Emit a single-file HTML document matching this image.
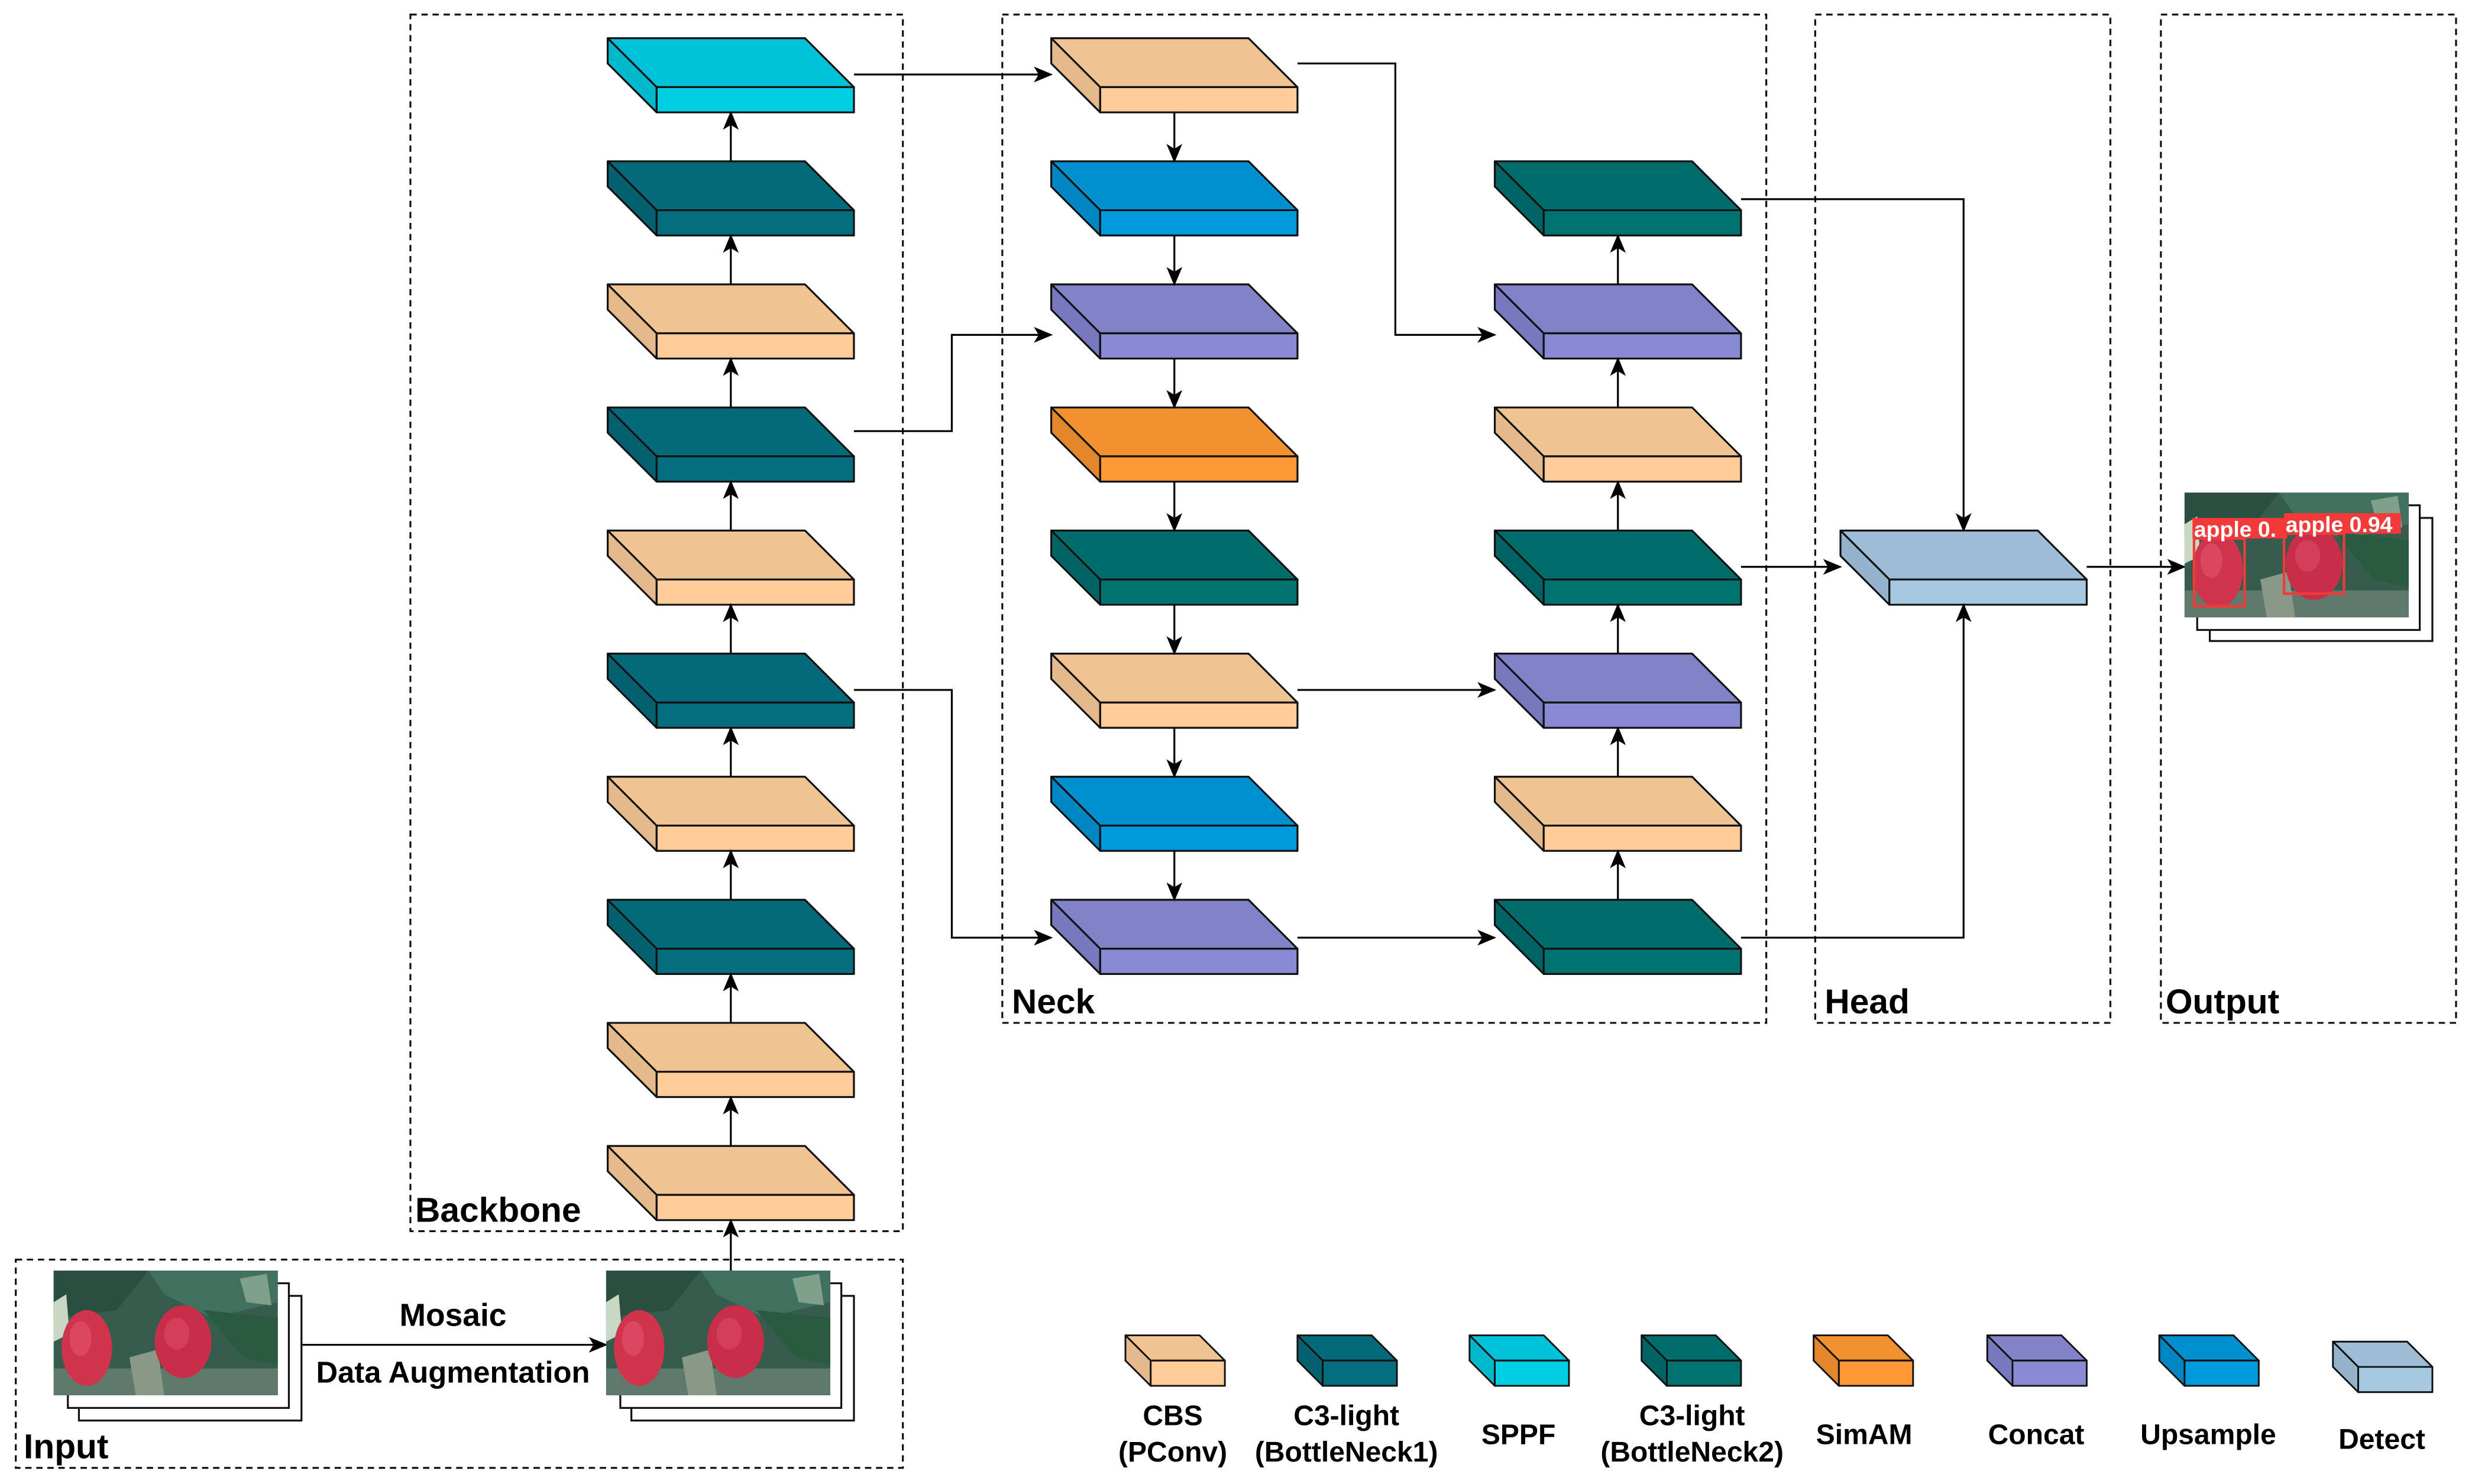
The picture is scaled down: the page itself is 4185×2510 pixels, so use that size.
<!DOCTYPE html>
<html><head><meta charset="utf-8"><style>html,body{margin:0;padding:0;background:#fff}svg{display:block}</style></head>
<body>
<svg width="4185" height="2510" viewBox="0 0 1568 940" xmlns="http://www.w3.org/2000/svg" font-family="'Liberation Sans', Arial, sans-serif">
<defs>
<marker id="ah" markerUnits="userSpaceOnUse" markerWidth="12" markerHeight="10" refX="11" refY="5" orient="auto">
<path d="M0,0 L12,5 L0,10 L3,5 z" fill="#000"/></marker>
<g id="cbs" stroke="#111" stroke-width="1.2" stroke-linejoin="round"><polygon points="0,0 125,0 156,31 31,31" fill="#F0C392"/><polygon points="0,0 31,31 31,47 0,16" fill="#E4BA8C"/><rect x="31" y="31" width="125" height="16" fill="#FFCC99"/></g>
<g id="c1" stroke="#111" stroke-width="1.2" stroke-linejoin="round"><polygon points="0,0 125,0 156,31 31,31" fill="#046A7A"/><polygon points="0,0 31,31 31,47 0,16" fill="#03606E"/><rect x="31" y="31" width="125" height="16" fill="#056E7E"/></g>
<g id="sppf" stroke="#111" stroke-width="1.2" stroke-linejoin="round"><polygon points="0,0 125,0 156,31 31,31" fill="#00C3D9"/><polygon points="0,0 31,31 31,47 0,16" fill="#00B8CC"/><rect x="31" y="31" width="125" height="16" fill="#00CFE3"/></g>
<g id="c2" stroke="#111" stroke-width="1.2" stroke-linejoin="round"><polygon points="0,0 125,0 156,31 31,31" fill="#006C6C"/><polygon points="0,0 31,31 31,47 0,16" fill="#006464"/><rect x="31" y="31" width="125" height="16" fill="#007370"/></g>
<g id="sim" stroke="#111" stroke-width="1.2" stroke-linejoin="round"><polygon points="0,0 125,0 156,31 31,31" fill="#F29130"/><polygon points="0,0 31,31 31,47 0,16" fill="#E4872C"/><rect x="31" y="31" width="125" height="16" fill="#FF9933"/></g>
<g id="cat" stroke="#111" stroke-width="1.2" stroke-linejoin="round"><polygon points="0,0 125,0 156,31 31,31" fill="#8282C8"/><polygon points="0,0 31,31 31,47 0,16" fill="#7878BE"/><rect x="31" y="31" width="125" height="16" fill="#8A8AD4"/></g>
<g id="up" stroke="#111" stroke-width="1.2" stroke-linejoin="round"><polygon points="0,0 125,0 156,31 31,31" fill="#008FCF"/><polygon points="0,0 31,31 31,47 0,16" fill="#0086C2"/><rect x="31" y="31" width="125" height="16" fill="#009ADD"/></g>
<g id="det" stroke="#111" stroke-width="1.2" stroke-linejoin="round"><polygon points="0,0 125,0 156,31 31,31" fill="#9DBDD6"/><polygon points="0,0 31,31 31,47 0,16" fill="#93B3CB"/><rect x="31" y="31" width="125" height="16" fill="#A6C8E0"/></g>
<g id="scene">
<rect x="0" y="0" width="142" height="79" fill="#355c4c"/>
<path d="M0,0 L60,0 L40,25 L0,30 z" fill="#2a4f40"/>
<path d="M60,0 L142,0 L142,20 L100,30 L70,15 z" fill="#40705e"/>
<path d="M95,25 L142,30 L142,60 L120,55 z" fill="#2a5a40"/>
<rect x="0" y="62" width="142" height="17" fill="#5f7a6a"/>
<path d="M0,20 L8,15 L10,40 L0,45 z" fill="#c9d8c4"/>
<path d="M118,5 L135,2 L138,22 L122,20 z" fill="#7fa08a"/>
<path d="M48,55 L66,50 L70,79 L52,79 z" fill="#8a9888"/>
<ellipse cx="21" cy="49" rx="16" ry="24" fill="#d0344c"/>
<ellipse cx="17" cy="43" rx="7" ry="11" fill="#e35a70" opacity="0.5"/>
<ellipse cx="82" cy="45" rx="18" ry="23" fill="#c92e48"/>
<ellipse cx="78" cy="40" rx="8" ry="10" fill="#dd5068" opacity="0.5"/>
</g>
</defs>

<g fill="none" stroke="#111" stroke-width="1.2" stroke-dasharray="4,3">
<rect x="260" y="9" width="312" height="771"/>
<rect x="10" y="798" width="562" height="132"/>
<rect x="635" y="9" width="484" height="639"/>
<rect x="1150" y="9" width="187" height="639"/>
<rect x="1369" y="9" width="187" height="639"/>
</g>

<use href="#sppf" x="385" y="24"/>
<use href="#c1" x="385" y="102"/>
<use href="#cbs" x="385" y="180"/>
<use href="#c1" x="385" y="258"/>
<use href="#cbs" x="385" y="336"/>
<use href="#c1" x="385" y="414"/>
<use href="#cbs" x="385" y="492"/>
<use href="#c1" x="385" y="570"/>
<use href="#cbs" x="385" y="648"/>
<use href="#cbs" x="385" y="726"/>
<use href="#cbs" x="666" y="24"/>
<use href="#up" x="666" y="102"/>
<use href="#cat" x="666" y="180"/>
<use href="#sim" x="666" y="258"/>
<use href="#c2" x="666" y="336"/>
<use href="#cbs" x="666" y="414"/>
<use href="#up" x="666" y="492"/>
<use href="#cat" x="666" y="570"/>
<use href="#c2" x="947" y="102"/>
<use href="#cat" x="947" y="180"/>
<use href="#cbs" x="947" y="258"/>
<use href="#c2" x="947" y="336"/>
<use href="#cat" x="947" y="414"/>
<use href="#cbs" x="947" y="492"/>
<use href="#c2" x="947" y="570"/>
<use href="#det" x="1166" y="336"/>

<g stroke="#000" stroke-width="1.2" fill="none" marker-end="url(#ah)">
<line x1="463" y1="102" x2="463" y2="71"/>
<line x1="463" y1="180" x2="463" y2="149"/>
<line x1="463" y1="258" x2="463" y2="227"/>
<line x1="463" y1="336" x2="463" y2="305"/>
<line x1="463" y1="414" x2="463" y2="383"/>
<line x1="463" y1="492" x2="463" y2="461"/>
<line x1="463" y1="570" x2="463" y2="539"/>
<line x1="463" y1="648" x2="463" y2="617"/>
<line x1="463" y1="726" x2="463" y2="695"/>
<line x1="463" y1="805" x2="463" y2="773"/>
<line x1="744" y1="71" x2="744" y2="102"/>
<line x1="744" y1="149" x2="744" y2="180"/>
<line x1="744" y1="227" x2="744" y2="258"/>
<line x1="744" y1="305" x2="744" y2="336"/>
<line x1="744" y1="383" x2="744" y2="414"/>
<line x1="744" y1="461" x2="744" y2="492"/>
<line x1="744" y1="539" x2="744" y2="570"/>
<line x1="1025" y1="180" x2="1025" y2="149"/>
<line x1="1025" y1="258" x2="1025" y2="227"/>
<line x1="1025" y1="336" x2="1025" y2="305"/>
<line x1="1025" y1="414" x2="1025" y2="383"/>
<line x1="1025" y1="492" x2="1025" y2="461"/>
<line x1="1025" y1="570" x2="1025" y2="539"/>
<line x1="541" y1="47" x2="666" y2="47"/>
<polyline points="822,40 884,40 884,212 947,212"/>
<polyline points="541,273 603,273 603,212 666,212"/>
<polyline points="541,437 603,437 603,594 666,594"/>
<line x1="822" y1="437" x2="947" y2="437"/>
<line x1="822" y1="594" x2="947" y2="594"/>
<polyline points="1103,126 1244,126 1244,336"/>
<line x1="1103" y1="359" x2="1166" y2="359"/>
<polyline points="1103,594 1244,594 1244,383"/>
<line x1="1322" y1="359" x2="1384" y2="359"/>
<line x1="190" y1="852" x2="384" y2="852"/>
</g>

<g stroke="#111" stroke-width="1.2" fill="#fff">
<rect x="50" y="821" width="141" height="79"/>
<rect x="43" y="813" width="140" height="79"/>
<rect x="400" y="821" width="141" height="79"/>
<rect x="393" y="813" width="140" height="79"/>
<rect x="1400" y="328" width="141" height="78"/>
<rect x="1392" y="320" width="141" height="79"/>
</g>
<use href="#scene" x="34" y="805"/>
<use href="#scene" x="384" y="805"/>
<g transform="translate(1384,312)"><use href="#scene" x="0" y="0"/>
<g fill="none" stroke="#f23a3a" stroke-width="1.6">
<rect x="6" y="29" width="32" height="43"/>
<rect x="63" y="26" width="38" height="38"/>
</g>
<rect x="5" y="16" width="60" height="13" fill="#f23a3a"/>
<rect x="63" y="13" width="74" height="13" fill="#f23a3a"/>
<text x="6" y="28" font-size="14" font-weight="bold" fill="#fff">apple  0.</text>
<text x="64" y="25" font-size="14" font-weight="bold" fill="#fff">apple  0.94</text>
</g>

<g font-weight="bold" fill="#000">
<text x="263" y="774" font-size="22">Backbone</text>
<text x="15" y="924" font-size="22">Input</text>
<text x="641" y="642" font-size="22">Neck</text>
<text x="1156" y="642" font-size="22">Head</text>
<text x="1372" y="642" font-size="22">Output</text>
<text x="287" y="840" font-size="20" text-anchor="middle">Mosaic</text>
<text x="287" y="876" font-size="19" text-anchor="middle">Data Augmentation</text>
</g>

<g stroke="#111" stroke-width="1.1" stroke-linejoin="round">
<g transform="translate(713,846)"><polygon points="0,0 47,0 63,16 16,16" fill="#F0C392"/><polygon points="0,0 16,16 16,32 0,16" fill="#E4BA8C"/><rect x="16" y="16" width="47" height="16" fill="#FFCC99"/></g>
<g transform="translate(822,846)"><polygon points="0,0 47,0 63,16 16,16" fill="#046A7A"/><polygon points="0,0 16,16 16,32 0,16" fill="#03606E"/><rect x="16" y="16" width="47" height="16" fill="#056E7E"/></g>
<g transform="translate(931,846)"><polygon points="0,0 47,0 63,16 16,16" fill="#00C3D9"/><polygon points="0,0 16,16 16,32 0,16" fill="#00B8CC"/><rect x="16" y="16" width="47" height="16" fill="#00CFE3"/></g>
<g transform="translate(1040,846)"><polygon points="0,0 47,0 63,16 16,16" fill="#006C6C"/><polygon points="0,0 16,16 16,32 0,16" fill="#006464"/><rect x="16" y="16" width="47" height="16" fill="#007370"/></g>
<g transform="translate(1149,846)"><polygon points="0,0 47,0 63,16 16,16" fill="#F29130"/><polygon points="0,0 16,16 16,32 0,16" fill="#E4872C"/><rect x="16" y="16" width="47" height="16" fill="#FF9933"/></g>
<g transform="translate(1259,846)"><polygon points="0,0 47,0 63,16 16,16" fill="#8282C8"/><polygon points="0,0 16,16 16,32 0,16" fill="#7878BE"/><rect x="16" y="16" width="47" height="16" fill="#8A8AD4"/></g>
<g transform="translate(1368,846)"><polygon points="0,0 47,0 63,16 16,16" fill="#008FCF"/><polygon points="0,0 16,16 16,32 0,16" fill="#0086C2"/><rect x="16" y="16" width="47" height="16" fill="#009ADD"/></g>
<g transform="translate(1478,850)"><polygon points="0,0 47,0 63,16 16,16" fill="#9DBDD6"/><polygon points="0,0 16,16 16,32 0,16" fill="#93B3CB"/><rect x="16" y="16" width="47" height="16" fill="#A6C8E0"/></g>
</g>
<g font-weight="bold" fill="#000" font-size="18" text-anchor="middle">
<text x="743" y="903">CBS</text>
<text x="743" y="926">(PConv)</text>
<text x="853" y="903">C3-light</text>
<text x="853" y="926">(BottleNeck1)</text>
<text x="962" y="915">SPPF</text>
<text x="1072" y="903">C3-light</text>
<text x="1072" y="926">(BottleNeck2)</text>
<text x="1181" y="915">SimAM</text>
<text x="1290" y="915">Concat</text>
<text x="1399" y="915">Upsample</text>
<text x="1509" y="918">Detect</text>
</g>
</svg>
</body></html>
